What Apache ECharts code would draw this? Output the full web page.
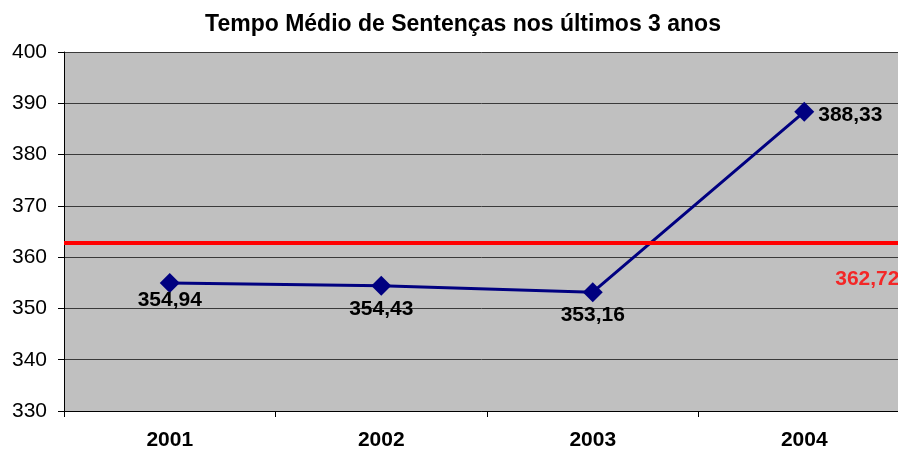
<!DOCTYPE html>
<html>
<head>
<meta charset="utf-8">
<script src="https://cdn.jsdelivr.net/npm/echarts@6/dist/echarts.min.js"></script>
<style>
  html, body { margin: 0; padding: 0; background: #fff; }
  #chart { width: 898px; height: 452px; }
</style>
</head>
<body>
<div id="chart"></div>
<script>
// Average sentencing time per year, with the overall mean as a reference line
const years = ['2001', '2002', '2003', '2004'];
const tempoMedio = [354.94, 354.43, 353.16, 388.33];
const media = 362.72;
const yTicks = { min: 330, max: 400, interval: 10 };

// small vertical nudges for the value labels under each point
const labelNudge = [-5, 1, 0, 3];

const fmt = v => v.toFixed(2).replace('.', ',');
const FONT = '"Liberation Sans", Arial, sans-serif';

const lineData = tempoMedio.map((v, i) => i === tempoMedio.length - 1
  ? { value: v, label: { position: 'right', distance: 4, offset: [0, labelNudge[i]] } }
  : { value: v, label: { offset: [0, labelNudge[i]] } });

const chart = echarts.init(document.getElementById('chart'));
chart.setOption({
  backgroundColor: '#ffffff',
  animation: false,
  title: {
    text: 'Tempo Médio de Sentenças nos últimos 3 anos',
    left: 458,
    textAlign: 'center',
    top: 8,
    textStyle: { fontFamily: FONT, fontSize: 23, fontWeight: 'bold', color: '#000' }
  },
  // the plot runs a little past the right edge of the canvas
  grid: {
    left: 64, top: 52, width: 846, bottom: 41,
    outerBoundsMode: 'none', containLabel: false,
    show: true, backgroundColor: '#c0c0c0', borderWidth: 0
  },
  xAxis: {
    type: 'category',
    data: years,
    boundaryGap: true,
    axisLine: { lineStyle: { color: '#000', width: 1 } },
    axisTick: { show: true, alignWithLabel: false, length: 6, lineStyle: { color: '#000' } },
    axisLabel: { fontFamily: FONT, fontSize: 21, fontWeight: 'bold', color: '#000', margin: 19 }
  },
  yAxis: {
    type: 'value',
    min: yTicks.min, max: yTicks.max, interval: yTicks.interval,
    axisLine: { show: true, lineStyle: { color: '#000', width: 1 } },
    axisTick: { show: true, length: 6, lineStyle: { color: '#000' } },
    axisLabel: { fontFamily: FONT, fontSize: 21, color: '#000', margin: 17 },
    splitLine: { show: true, lineStyle: { color: '#3a3a3a', width: 1 } }
  },
  series: [
    {
      type: 'line',
      data: lineData,
      symbol: 'diamond',
      symbolSize: 20,
      lineStyle: { color: '#000080', width: 3 },
      itemStyle: { color: '#000080' },
      label: {
        show: true,
        position: 'bottom',
        distance: 2,
        fontFamily: FONT, fontSize: 21, fontWeight: 'bold', color: '#000',
        formatter: p => fmt(p.value)
      },
      z: 3
    },
    {
      // invisible point carrying the mean label, plus the mean line itself
      type: 'scatter',
      data: [[3, media]],
      symbolSize: 0,
      label: {
        show: true,
        position: 'right',
        offset: [26, 36],
        fontFamily: FONT, fontSize: 21, fontWeight: 'bold', color: '#ff0000',
        formatter: p => fmt(p.value[1])
      },
      markLine: {
        silent: true,
        symbol: 'none',
        label: { show: false },
        lineStyle: { color: '#ff0000', width: 4, type: 'solid' },
        data: [{ yAxis: media }]
      },
      z: 2
    }
  ]
});
</script>
</body>
</html>
